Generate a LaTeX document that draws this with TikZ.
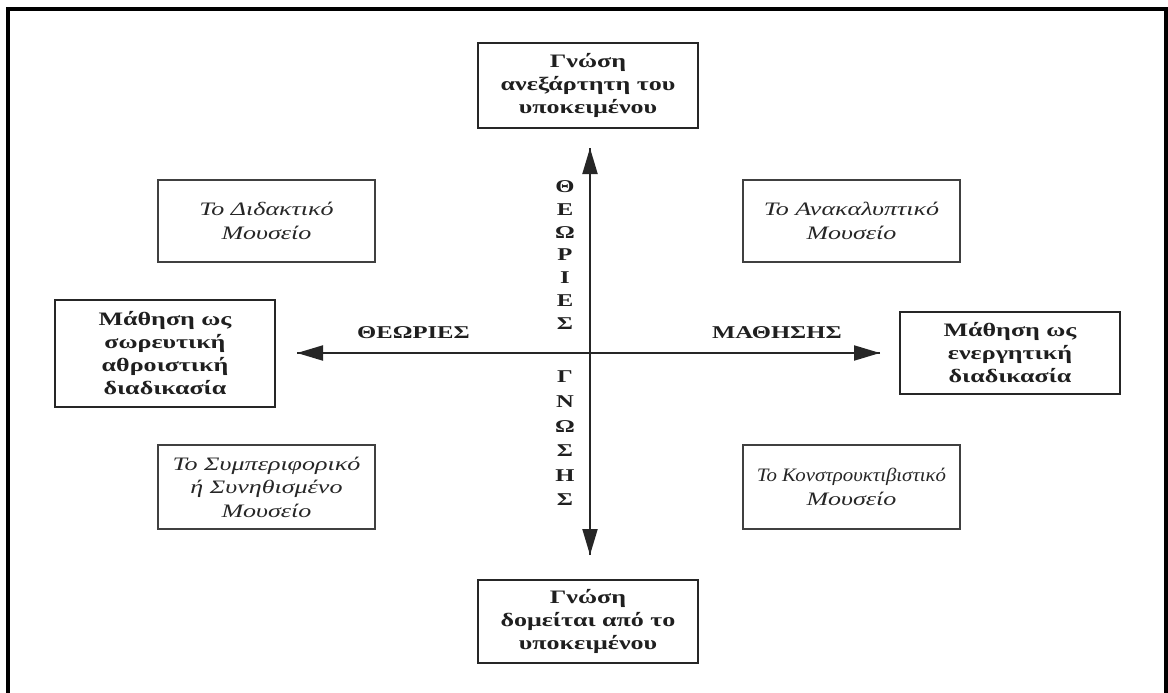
\documentclass[tikz,border=0pt]{standalone}
\usepackage{fontspec}
\usepackage{graphicx}
\setmainfont{Liberation Serif}[FakeStretch=1.37]
\usetikzlibrary{arrows.meta}
\begin{document}
\begin{tikzpicture}[x=1pt,y=-1pt,
  boxb/.style={draw=black!85,line width=2pt,align=center,font=\fontsize{19}{23}\selectfont\bfseries,inner sep=0pt,text=black!88},
  boxi/.style={draw=black!75,line width=2pt,align=center,font=\fontsize{19}{23.5}\selectfont\itshape,inner sep=0pt,text=black!85},
  axis/.style={line width=2pt,black!85,-{Triangle[length=26pt,width=15pt]}},
  lbl/.style={font=\fontsize{18}{20}\selectfont\bfseries,text=black!88,inner sep=0pt},
  vl/.style={font=\fontsize{18}{20}\selectfont\bfseries,text=black!88,inner sep=0pt,anchor=center}]
\useasboundingbox (0,0) rectangle (1168,693);
\begin{scope}
\clip (0,0) rectangle (1168,693);
\draw[line width=4pt,black] (8,720) -- (8,9.5) -- (1166,9.5) -- (1166,720);
\end{scope}
% boxes
\node[boxb,minimum width=220pt,minimum height=85pt] (top) at (588,85.5) {Γνώση\\ανεξάρτητη του\\υποκειμένου};
\node[boxb,minimum width=220pt,minimum height=83pt] (bot) at (588,621.5) {Γνώση\\δομείται από το\\υποκειμένου};
\node[boxb,minimum width=220pt,minimum height=107pt] (left) at (165,353.5) {Μάθηση ως\\σωρευτική\\αθροιστική\\διαδικασία};
\node[boxb,minimum width=220pt,minimum height=82pt] (right) at (1010,353) {Μάθηση ως\\ενεργητική\\διαδικασία};
\node[boxi,minimum width=217pt,minimum height=82pt] (tl) at (266.5,221) {Το Διδακτικό\\Μουσείο};
\node[boxi,minimum width=217pt,minimum height=82pt] (tr) at (851.5,221) {Το Ανακαλυπτικό\\Μουσείο};
\node[boxi,minimum width=217pt,minimum height=84pt] (bl) at (266.5,487) {Το Συμπεριφορικό\\ή Συνηθισμένο\\Μουσείο};
\node[boxi,minimum width=217pt,minimum height=84pt] (br) at (851.5,487) {\scalebox{0.8}[1]{Το Κονστρουκτιβιστικό}\\Μουσείο};
% axes
\coordinate (c) at (590,353);
\coordinate (ct) at (590,148);
\coordinate (cb) at (590,555);
\coordinate (cl) at (297,353);
\coordinate (cr) at (880,353);
\draw[axis] (cb) -- (ct);
\draw[axis] (ct) -- (cb);
\draw[axis] (cr) -- (cl);
\draw[axis] (cl) -- (cr);
% labels
\node[lbl,anchor=base west] (lt) at (357,338.5) {ΘΕΩΡΙΕΣ};
\node[lbl,anchor=base west] (lm) at (712,338.5) {ΜΑΘΗΣΗΣ};
\foreach \ch [count=\i] in {Θ,Ε,Ω,Ρ,Ι,Ε,Σ} {
  \node[vl] (v\i) at (565,{187+(\i-1)*22.7}) {\ch};
}
\foreach \ch [count=\i] in {Γ,Ν,Ω,Σ,Η,Σ} {
  \node[vl] (w\i) at (565,{377+(\i-1)*24.6}) {\ch};
}
\end{tikzpicture}
\end{document}
